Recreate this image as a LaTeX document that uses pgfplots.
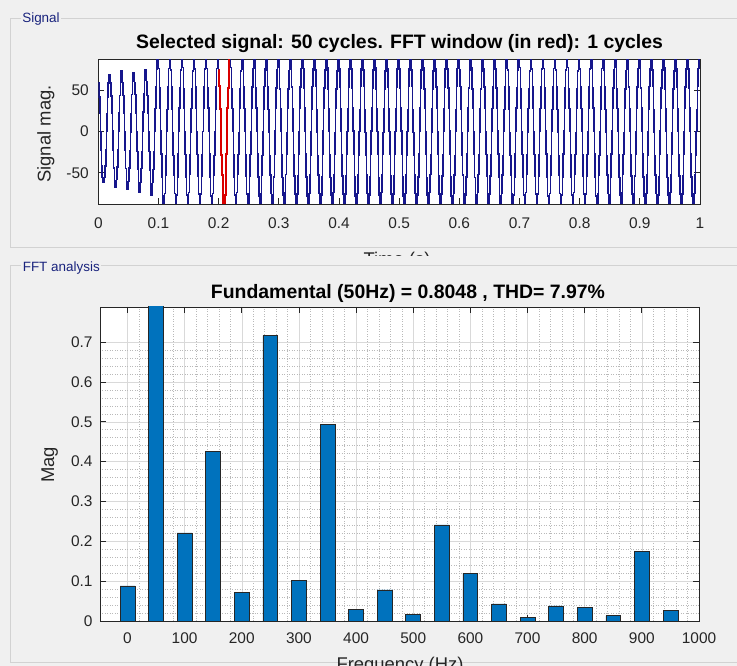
\documentclass[border=0pt]{standalone}
\usepackage{fontspec}
\setmainfont{Liberation Sans}
\usepackage{pgfplots}
\pgfplotsset{compat=1.18}
\definecolor{panelbg}{RGB}{240,240,240}
\definecolor{boxline}{RGB}{210,210,210}
\definecolor{navy}{RGB}{25,35,125}
\definecolor{axgray}{RGB}{38,38,38}
\definecolor{mblue}{RGB}{0,114,189}
\definecolor{sig}{RGB}{22,22,140}
\pgfplotsset{
 matlab/.style={
  scale only axis, anchor=south west,
  axis background/.style={fill=white},
  axis line style={axgray, line width=0.9bp},
  tick style={axgray, line width=0.8bp},
  tick align=inside, major tick length=6bp, minor tick length=0bp,
  tick label style={font=\fontsize{15.5}{18}\selectfont, text=axgray},
  /pgf/number format/assume math mode=true,
  /pgf/number format/1000 sep={},
  scaled ticks=false,
 }
}
\begin{document}
\begin{tikzpicture}[x=1bp,y=1bp]
\useasboundingbox (0,0) rectangle (737,666);
\clip (0,0) rectangle (737,666);
\fill[panelbg] (0,0) rectangle (737,666);
\draw[boxline, line width=1bp] (745,647.7) -- (10,647.7) -- (10,418) -- (745,418);
\draw[boxline, line width=1bp] (745,400.5) -- (10,400.5) -- (10,3) -- (745,3);
\node[fill=panelbg, inner sep=1.5bp, text=navy, font=\fontsize{13.5}{16}\selectfont] at (41,647) {Signal};
\node[fill=panelbg, inner sep=1.5bp, text=navy, font=\fontsize{13.5}{16}\selectfont] at (61.3,397.5) {FFT analysis};
\begin{scope}
\clip (0,410) rectangle (737,417);
\node[anchor=base, font=\fontsize{18.5}{22}\selectfont, text=axgray] at (397,400.5) {Time (s)};
\end{scope}
\node[anchor=base, font=\fontsize{18.5}{22}\selectfont, text=axgray] at (400,-5) {Frequency (Hz)};

\begin{axis}[matlab, at={(98.3bp,462bp)}, width=601.7bp, height=144.7bp,
  xmin=0, xmax=1, ymin=-88, ymax=88,
  xtick={0,0.1,0.2,0.3,0.4,0.5,0.6,0.7,0.8,0.9,1}, ytick={-50,0,50},
  xticklabel style={yshift=-10bp}, yticklabel style={xshift=-6bp}]
\addplot[const plot, sig, line width=1.6bp, mark=none] coordinates {
(0,59)(0.0014,42)(0.0025,22)(0.0035,0)(0.0045,-22)(0.0055,-42)(0.0066,-56)(0.0080,-62)(0.01,-56)(0.0114,-42)(0.0125,-22)(0.0135,0)(0.0145,22)(0.0155,42)(0.0166,59)(0.0180,69)
(0.02,59)(0.0214,43)(0.0225,23)(0.0235,1)(0.0245,-22)(0.0255,-44)(0.0266,-60)(0.0280,-68)(0.03,-58)(0.0314,-43)(0.0325,-22)(0.0335,0)(0.0345,23)(0.0355,44)(0.0366,60)(0.0380,74)
(0.04,60)(0.0414,44)(0.0425,22)(0.0435,0)(0.0445,-23)(0.0455,-45)(0.0466,-61)(0.0480,-70)(0.05,-60)(0.0514,-44)(0.0525,-23)(0.0535,-1)(0.0545,22)(0.0555,45)(0.0566,61)(0.0580,72)
(0.06,60)(0.0614,45)(0.0625,23)(0.0635,0)(0.0645,-24)(0.0655,-46)(0.0666,-62)(0.0680,-74)(0.07,-61)(0.0714,-45)(0.0725,-24)(0.0735,0)(0.0745,24)(0.0755,46)(0.0766,62)(0.0780,75)
(0.08,61)(0.0814,44)(0.0825,23)(0.0835,0)(0.0845,-24)(0.0855,-47)(0.0866,-64)(0.0880,-77)(0.09,-62)(0.0914,-46)(0.0925,-25)(0.0935,0)(0.0945,28)(0.0955,54)(0.0966,76)(0.0980,93)
(0.10,77)(0.1014,53)(0.1025,29)(0.1035,1)(0.1045,-27)(0.1055,-55)(0.1066,-78)(0.1080,-94)(0.11,-75)(0.1114,-53)(0.1125,-29)(0.1135,0)(0.1145,27)(0.1155,55)(0.1166,77)(0.1180,95)
(0.12,75)(0.1214,55)(0.1225,27)(0.1235,-1)(0.1245,-29)(0.1255,-53)(0.1266,-75)(0.1280,-91)(0.13,-77)(0.1314,-55)(0.1325,-27)(0.1335,1)(0.1345,29)(0.1355,53)(0.1366,75)(0.1380,93)
(0.14,78)(0.1414,52)(0.1425,28)(0.1435,0)(0.1445,-28)(0.1455,-56)(0.1466,-77)(0.1480,-96)(0.15,-74)(0.1514,-52)(0.1525,-28)(0.1535,-1)(0.1545,28)(0.1555,52)(0.1566,74)(0.1580,97)
(0.16,76)(0.1614,54)(0.1625,28)(0.1635,0)(0.1645,-28)(0.1655,-54)(0.1666,-76)(0.1680,-92)(0.17,-76)(0.1714,-54)(0.1725,-28)(0.1735,0)(0.1745,28)(0.1755,54)(0.1766,76)(0.1780,92)
(0.18,77)(0.1814,53)(0.1825,29)(0.1835,1)(0.1845,-27)(0.1855,-55)(0.1866,-78)(0.1880,-94)(0.19,-75)(0.1914,-53)(0.1925,-29)(0.1935,0)(0.1945,27)(0.1955,55)(0.1966,77)(0.1980,95)
(0.20,75)(0.2014,55)(0.2025,27)(0.2035,-1)(0.2045,-29)(0.2055,-53)(0.2066,-75)(0.2080,-91)(0.21,-77)(0.2114,-55)(0.2125,-27)(0.2135,1)(0.2145,29)(0.2155,53)(0.2166,75)(0.2180,93)
(0.22,78)(0.2214,52)(0.2225,28)(0.2235,0)(0.2245,-28)(0.2255,-56)(0.2266,-77)(0.2280,-96)(0.23,-74)(0.2314,-52)(0.2325,-28)(0.2335,-1)(0.2345,28)(0.2355,52)(0.2366,74)(0.2380,97)
(0.24,76)(0.2414,54)(0.2425,28)(0.2435,0)(0.2445,-28)(0.2455,-54)(0.2466,-76)(0.2480,-92)(0.25,-76)(0.2514,-54)(0.2525,-28)(0.2535,0)(0.2545,28)(0.2555,54)(0.2566,76)(0.2580,92)
(0.26,77)(0.2614,53)(0.2625,29)(0.2635,1)(0.2645,-27)(0.2655,-55)(0.2666,-78)(0.2680,-94)(0.27,-75)(0.2714,-53)(0.2725,-29)(0.2735,0)(0.2745,27)(0.2755,55)(0.2766,77)(0.2780,95)
(0.28,75)(0.2814,55)(0.2825,27)(0.2835,-1)(0.2845,-29)(0.2855,-53)(0.2866,-75)(0.2880,-91)(0.29,-77)(0.2914,-55)(0.2925,-27)(0.2935,1)(0.2945,29)(0.2955,53)(0.2966,75)(0.2980,93)
(0.30,78)(0.3014,52)(0.3025,28)(0.3035,0)(0.3045,-28)(0.3055,-56)(0.3066,-77)(0.3080,-96)(0.31,-74)(0.3114,-52)(0.3125,-28)(0.3135,-1)(0.3145,28)(0.3155,52)(0.3166,74)(0.3180,97)
(0.32,76)(0.3214,54)(0.3225,28)(0.3235,0)(0.3245,-28)(0.3255,-54)(0.3266,-76)(0.3280,-92)(0.33,-76)(0.3314,-54)(0.3325,-28)(0.3335,0)(0.3345,28)(0.3355,54)(0.3366,76)(0.3380,92)
(0.34,77)(0.3414,53)(0.3425,29)(0.3435,1)(0.3445,-27)(0.3455,-55)(0.3466,-78)(0.3480,-94)(0.35,-75)(0.3514,-53)(0.3525,-29)(0.3535,0)(0.3545,27)(0.3555,55)(0.3566,77)(0.3580,95)
(0.36,75)(0.3614,55)(0.3625,27)(0.3635,-1)(0.3645,-29)(0.3655,-53)(0.3666,-75)(0.3680,-91)(0.37,-77)(0.3714,-55)(0.3725,-27)(0.3735,1)(0.3745,29)(0.3755,53)(0.3766,75)(0.3780,93)
(0.38,78)(0.3814,52)(0.3825,28)(0.3835,0)(0.3845,-28)(0.3855,-56)(0.3866,-77)(0.3880,-96)(0.39,-74)(0.3914,-52)(0.3925,-28)(0.3935,-1)(0.3945,28)(0.3955,52)(0.3966,74)(0.3980,97)
(0.40,76)(0.4014,54)(0.4025,28)(0.4035,0)(0.4045,-28)(0.4055,-54)(0.4066,-76)(0.4080,-92)(0.41,-76)(0.4114,-54)(0.4125,-28)(0.4135,0)(0.4145,28)(0.4155,54)(0.4166,76)(0.4180,92)
(0.42,77)(0.4214,53)(0.4225,29)(0.4235,1)(0.4245,-27)(0.4255,-55)(0.4266,-78)(0.4280,-94)(0.43,-75)(0.4314,-53)(0.4325,-29)(0.4335,0)(0.4345,27)(0.4355,55)(0.4366,77)(0.4380,95)
(0.44,75)(0.4414,55)(0.4425,27)(0.4435,-1)(0.4445,-29)(0.4455,-53)(0.4466,-75)(0.4480,-91)(0.45,-77)(0.4514,-55)(0.4525,-27)(0.4535,1)(0.4545,29)(0.4555,53)(0.4566,75)(0.4580,93)
(0.46,78)(0.4614,52)(0.4625,28)(0.4635,0)(0.4645,-28)(0.4655,-56)(0.4666,-77)(0.4680,-96)(0.47,-74)(0.4714,-52)(0.4725,-28)(0.4735,-1)(0.4745,28)(0.4755,52)(0.4766,74)(0.4780,97)
(0.48,76)(0.4814,54)(0.4825,28)(0.4835,0)(0.4845,-28)(0.4855,-54)(0.4866,-76)(0.4880,-92)(0.49,-76)(0.4914,-54)(0.4925,-28)(0.4935,0)(0.4945,28)(0.4955,54)(0.4966,76)(0.4980,92)
(0.50,77)(0.5014,53)(0.5025,29)(0.5035,1)(0.5045,-27)(0.5055,-55)(0.5066,-78)(0.5080,-94)(0.51,-75)(0.5114,-53)(0.5125,-29)(0.5135,0)(0.5145,27)(0.5155,55)(0.5166,77)(0.5180,95)
(0.52,75)(0.5214,55)(0.5225,27)(0.5235,-1)(0.5245,-29)(0.5255,-53)(0.5266,-75)(0.5280,-91)(0.53,-77)(0.5314,-55)(0.5325,-27)(0.5335,1)(0.5345,29)(0.5355,53)(0.5366,75)(0.5380,93)
(0.54,78)(0.5414,52)(0.5425,28)(0.5435,0)(0.5445,-28)(0.5455,-56)(0.5466,-77)(0.5480,-96)(0.55,-74)(0.5514,-52)(0.5525,-28)(0.5535,-1)(0.5545,28)(0.5555,52)(0.5566,74)(0.5580,97)
(0.56,76)(0.5614,54)(0.5625,28)(0.5635,0)(0.5645,-28)(0.5655,-54)(0.5666,-76)(0.5680,-92)(0.57,-76)(0.5714,-54)(0.5725,-28)(0.5735,0)(0.5745,28)(0.5755,54)(0.5766,76)(0.5780,92)
(0.58,77)(0.5814,53)(0.5825,29)(0.5835,1)(0.5845,-27)(0.5855,-55)(0.5866,-78)(0.5880,-94)(0.59,-75)(0.5914,-53)(0.5925,-29)(0.5935,0)(0.5945,27)(0.5955,55)(0.5966,77)(0.5980,95)
(0.60,75)(0.6014,55)(0.6025,27)(0.6035,-1)(0.6045,-29)(0.6055,-53)(0.6066,-75)(0.6080,-91)(0.61,-77)(0.6114,-55)(0.6125,-27)(0.6135,1)(0.6145,29)(0.6155,53)(0.6166,75)(0.6180,93)
(0.62,78)(0.6214,52)(0.6225,28)(0.6235,0)(0.6245,-28)(0.6255,-56)(0.6266,-77)(0.6280,-96)(0.63,-74)(0.6314,-52)(0.6325,-28)(0.6335,-1)(0.6345,28)(0.6355,52)(0.6366,74)(0.6380,97)
(0.64,76)(0.6414,54)(0.6425,28)(0.6435,0)(0.6445,-28)(0.6455,-54)(0.6466,-76)(0.6480,-92)(0.65,-76)(0.6514,-54)(0.6525,-28)(0.6535,0)(0.6545,28)(0.6555,54)(0.6566,76)(0.6580,92)
(0.66,77)(0.6614,53)(0.6625,29)(0.6635,1)(0.6645,-27)(0.6655,-55)(0.6666,-78)(0.6680,-94)(0.67,-75)(0.6714,-53)(0.6725,-29)(0.6735,0)(0.6745,27)(0.6755,55)(0.6766,77)(0.6780,95)
(0.68,75)(0.6814,55)(0.6825,27)(0.6835,-1)(0.6845,-29)(0.6855,-53)(0.6866,-75)(0.6880,-91)(0.69,-77)(0.6914,-55)(0.6925,-27)(0.6935,1)(0.6945,29)(0.6955,53)(0.6966,75)(0.6980,93)
(0.70,78)(0.7014,52)(0.7025,28)(0.7035,0)(0.7045,-28)(0.7055,-56)(0.7066,-77)(0.7080,-96)(0.71,-74)(0.7114,-52)(0.7125,-28)(0.7135,-1)(0.7145,28)(0.7155,52)(0.7166,74)(0.7180,97)
(0.72,76)(0.7214,54)(0.7225,28)(0.7235,0)(0.7245,-28)(0.7255,-54)(0.7266,-76)(0.7280,-92)(0.73,-76)(0.7314,-54)(0.7325,-28)(0.7335,0)(0.7345,28)(0.7355,54)(0.7366,76)(0.7380,92)
(0.74,77)(0.7414,53)(0.7425,29)(0.7435,1)(0.7445,-27)(0.7455,-55)(0.7466,-78)(0.7480,-94)(0.75,-75)(0.7514,-53)(0.7525,-29)(0.7535,0)(0.7545,27)(0.7555,55)(0.7566,77)(0.7580,95)
(0.76,75)(0.7614,55)(0.7625,27)(0.7635,-1)(0.7645,-29)(0.7655,-53)(0.7666,-75)(0.7680,-91)(0.77,-77)(0.7714,-55)(0.7725,-27)(0.7735,1)(0.7745,29)(0.7755,53)(0.7766,75)(0.7780,93)
(0.78,78)(0.7814,52)(0.7825,28)(0.7835,0)(0.7845,-28)(0.7855,-56)(0.7866,-77)(0.7880,-96)(0.79,-74)(0.7914,-52)(0.7925,-28)(0.7935,-1)(0.7945,28)(0.7955,52)(0.7966,74)(0.7980,97)
(0.80,76)(0.8014,54)(0.8025,28)(0.8035,0)(0.8045,-28)(0.8055,-54)(0.8066,-76)(0.8080,-92)(0.81,-76)(0.8114,-54)(0.8125,-28)(0.8135,0)(0.8145,28)(0.8155,54)(0.8166,76)(0.8180,92)
(0.82,77)(0.8214,53)(0.8225,29)(0.8235,1)(0.8245,-27)(0.8255,-55)(0.8266,-78)(0.8280,-94)(0.83,-75)(0.8314,-53)(0.8325,-29)(0.8335,0)(0.8345,27)(0.8355,55)(0.8366,77)(0.8380,95)
(0.84,75)(0.8414,55)(0.8425,27)(0.8435,-1)(0.8445,-29)(0.8455,-53)(0.8466,-75)(0.8480,-91)(0.85,-77)(0.8514,-55)(0.8525,-27)(0.8535,1)(0.8545,29)(0.8555,53)(0.8566,75)(0.8580,93)
(0.86,78)(0.8614,52)(0.8625,28)(0.8635,0)(0.8645,-28)(0.8655,-56)(0.8666,-77)(0.8680,-96)(0.87,-74)(0.8714,-52)(0.8725,-28)(0.8735,-1)(0.8745,28)(0.8755,52)(0.8766,74)(0.8780,97)
(0.88,76)(0.8814,54)(0.8825,28)(0.8835,0)(0.8845,-28)(0.8855,-54)(0.8866,-76)(0.8880,-92)(0.89,-76)(0.8914,-54)(0.8925,-28)(0.8935,0)(0.8945,28)(0.8955,54)(0.8966,76)(0.8980,92)
(0.90,77)(0.9014,53)(0.9025,29)(0.9035,1)(0.9045,-27)(0.9055,-55)(0.9066,-78)(0.9080,-94)(0.91,-75)(0.9114,-53)(0.9125,-29)(0.9135,0)(0.9145,27)(0.9155,55)(0.9166,77)(0.9180,95)
(0.92,75)(0.9214,55)(0.9225,27)(0.9235,-1)(0.9245,-29)(0.9255,-53)(0.9266,-75)(0.9280,-91)(0.93,-77)(0.9314,-55)(0.9325,-27)(0.9335,1)(0.9345,29)(0.9355,53)(0.9366,75)(0.9380,93)
(0.94,78)(0.9414,52)(0.9425,28)(0.9435,0)(0.9445,-28)(0.9455,-56)(0.9466,-77)(0.9480,-96)(0.95,-74)(0.9514,-52)(0.9525,-28)(0.9535,-1)(0.9545,28)(0.9555,52)(0.9566,74)(0.9580,97)
(0.96,76)(0.9614,54)(0.9625,28)(0.9635,0)(0.9645,-28)(0.9655,-54)(0.9666,-76)(0.9680,-92)(0.97,-76)(0.9714,-54)(0.9725,-28)(0.9735,0)(0.9745,28)(0.9755,54)(0.9766,76)(0.9780,92)
(0.98,77)(0.9814,53)(0.9825,29)(0.9835,1)(0.9845,-27)(0.9855,-55)(0.9866,-78)(0.9880,-94)(0.99,-75)(0.9914,-53)(0.9925,-29)(0.9935,0)(0.9945,27)(0.9955,55)(0.9966,77)(0.9980,95)
(1,95)
};
\addplot[const plot, red!85!black, line width=2bp, mark=none] coordinates {
(0.20,75)(0.2014,55)(0.2025,27)(0.2035,-1)(0.2045,-29)(0.2055,-53)(0.2066,-75)(0.2080,-91)(0.21,-77)(0.2114,-55)(0.2125,-27)(0.2135,1)(0.2145,29)(0.2155,53)(0.2166,75)(0.2180,93)
(0.22,93)
};
\end{axis}

\begin{axis}[matlab, at={(100bp,45bp)}, width=599bp, height=314bp,
  xmin=-48, xmax=1000, ymin=0, ymax=0.788,
  xtick={0,100,...,1000}, ytick={0,0.1,0.2,0.3,0.4,0.5,0.6,0.7},
  minor x tick num=4, minor y tick num=4, grid=both,
  major grid style={gray!30, line width=0.5bp},
  minor grid style={gray!55, line width=0.5bp, dotted},
  xticklabel style={yshift=-8bp}, yticklabel style={xshift=-4bp}]
\addplot[ybar, bar width=26, fill=mblue, draw=black!85, line width=0.7bp] coordinates {
(0,0.088)(50,0.8048)(100,0.221)(150,0.425)(200,0.071)(250,0.716)(300,0.101)(350,0.493)(400,0.030)(450,0.078)
(500,0.017)(550,0.241)(600,0.120)(650,0.043)(700,0.010)(750,0.038)(800,0.034)(850,0.013)(900,0.174)(950,0.027)
};
\end{axis}

\node[anchor=base, font=\fontsize{19.5}{23}\selectfont\bfseries] at (399.5,617.7) {Selected signal: 50 cycles. FFT window (in red): 1 cycles};
\node[anchor=base, font=\fontsize{19.5}{23}\selectfont\bfseries] at (408,367.7) {Fundamental (50Hz) = 0.8048 , THD= 7.97\%};
\node[rotate=90, anchor=base, font=\fontsize{18.5}{22}\selectfont, text=axgray] at (50.5,532) {Signal mag.};
\node[rotate=90, anchor=base, font=\fontsize{18.5}{22}\selectfont, text=axgray] at (54,201) {Mag};
\end{tikzpicture}
\end{document}
